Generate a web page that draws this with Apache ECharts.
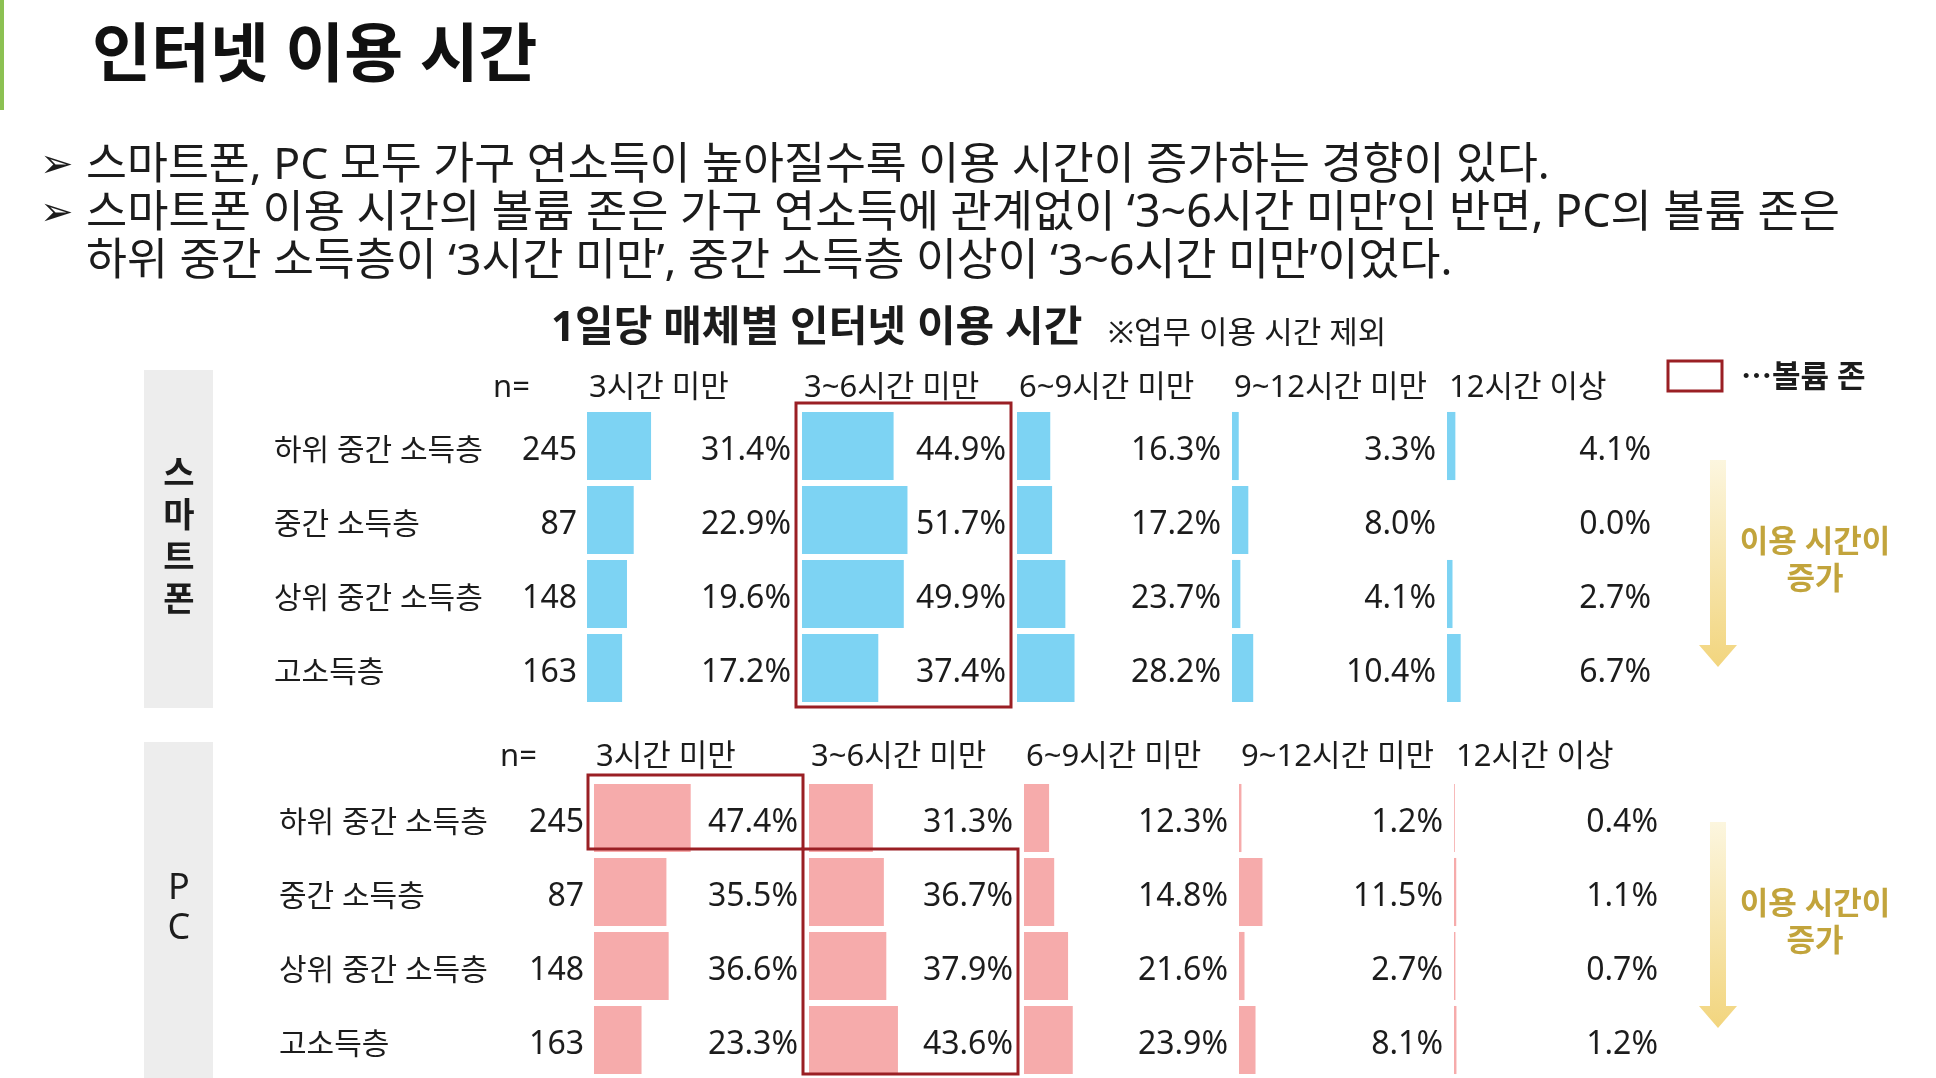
<!DOCTYPE html>
<html>
<head>
<meta charset="utf-8">
<title>인터넷 이용 시간</title>
<script src="https://cdn.jsdelivr.net/npm/echarts@6/dist/echarts.min.js"></script>
<style>
  html, body { margin: 0; padding: 0; background: #ffffff; }
  #chart { width: 1936px; height: 1078px; }
</style>
</head>
<body>
<div id="chart"></div>
<script type="text/javascript">
  // categories
  var incomeGroups = ['하위 중간 소득층', '중간 소득층', '상위 중간 소득층', '고소득층'];
  var sampleN = [245, 87, 148, 163];
  var timeBands = ['3시간 미만', '3~6시간 미만', '6~9시간 미만', '9~12시간 미만', '12시간 이상'];

  // 스마트폰 (%)
  var phoneUnder3 = [31.4, 22.9, 19.6, 17.2];
  var phone3to6 = [44.9, 51.7, 49.9, 37.4];
  var phone6to9 = [16.3, 17.2, 23.7, 28.2];
  var phone9to12 = [3.3, 8.0, 4.1, 10.4];
  var phoneOver12 = [4.1, 0.0, 2.7, 6.7];

  // PC (%)
  var pcUnder3 = [47.4, 35.5, 36.6, 23.3];
  var pc3to6 = [31.3, 36.7, 37.9, 43.6];
  var pc6to9 = [12.3, 14.8, 21.6, 23.9];
  var pc9to12 = [1.2, 11.5, 2.7, 8.1];
  var pcOver12 = [0.4, 1.1, 0.7, 1.2];

  // 볼륨 존: time band index per income group
  var phoneZone = [1, 1, 1, 1];
  var pcZone = [0, 1, 1, 1];

  var FONT = '"Noto Sans", "Noto Sans CJK KR", sans-serif';
  var INK = '#1c1c1c';
  var BOX = '#9a1f24';

  var sections = [
    { name: '스마트폰', weight: 'bold', nameSize: 34, bands: [phoneUnder3, phone3to6, phone6to9, phone9to12, phoneOver12],
      zone: phoneZone, color: '#7dd3f3', top: 409, colLeft: 587, labelLeft: 274, nLeft: 493,
      headerY: 388, panelTop: 370, panelBottom: 708, charStep: 42, charShift: -19, boxPad: 2,
      arrowTop: 460, arrowTip: 667, noteY: 543 },
    { name: 'PC', weight: 'normal', nameSize: 36, bands: [pcUnder3, pc3to6, pc6to9, pc9to12, pcOver12],
      zone: pcZone, color: '#f6abab', top: 781, colLeft: 594, labelLeft: 279, nLeft: 500,
      headerY: 757, panelTop: 742, panelBottom: 1078, charStep: 40, charShift: -20, boxPad: -3,
      arrowTop: 822, arrowTip: 1028, noteY: 905 }
  ];

  var COL_PITCH = 215, COL_W = 204, ROW_H = 74;

  var grids = [], xAxes = [], yAxes = [], series = [], graphics = [];

  function txt(x, y, text, size, opt) {
    opt = opt || {};
    graphics.push({
      type: 'text', x: x, y: y, silent: true,
      style: {
        text: text, fill: opt.color || INK, font: (opt.weight || 'normal') + ' ' + size + 'px ' + FONT,
        textAlign: opt.align || 'left', textVerticalAlign: 'middle', lineHeight: opt.lineHeight
      }
    });
  }

  // page texts
  graphics.push({ type: 'rect', shape: { x: 0, y: 0, width: 4, height: 110 }, style: { fill: '#8cc152' }, silent: true });
  txt(92, 58, '인터넷 이용 시간', 64, { weight: 'bold', color: '#111' });
  txt(40, 166, '➢', 40);
  txt(86, 166, '스마트폰, PC 모두 가구 연소득이 높아질수록 이용 시간이 증가하는 경향이 있다.', 44.5);
  txt(40, 214, '➢', 40);
  txt(86, 214, '스마트폰 이용 시간의 볼륨 존은 가구 연소득에 관계없이 ‘3~6시간 미만’인 반면, PC의 볼륨 존은', 44.8);
  txt(86, 262, '하위 중간 소득층이 ‘3시간 미만’, 중간 소득층 이상이 ‘3~6시간 미만’이었다.', 44.5);
  txt(551, 329, '1일당 매체별 인터넷 이용 시간', 42, { weight: 'bold' });
  txt(1108, 334, '※업무 이용 시간 제외', 31);

  // legend
  graphics.push({ type: 'rect', shape: { x: 1668, y: 361, width: 54, height: 30 }, style: { fill: '#fff', stroke: BOX, lineWidth: 3 }, silent: true });
  txt(1741, 378, '⋯볼륨 존', 31, { weight: 'bold' });

  // row texts sit a little below the bar centre
  var rowLabel = { verticalAlign: 'top', lineHeight: 10, fontFamily: FONT, color: INK };

  sections.forEach(function (sec, s) {
    var gridBottom = sec.top + ROW_H * incomeGroups.length;

    // side panel
    graphics.push({ type: 'rect', shape: { x: 144, y: sec.panelTop, width: 69, height: sec.panelBottom - sec.panelTop },
      style: { fill: '#ededed' }, silent: true });
    txt(179, (sec.top + gridBottom) / 2 + sec.charShift, sec.name.split('').join('\n'), sec.nameSize,
      { weight: sec.weight, align: 'center', lineHeight: sec.charStep });

    // header row
    txt(sec.nLeft, sec.headerY, 'n=', 31);

    sec.bands.forEach(function (vals, c) {
      var g = grids.length;
      var left = sec.colLeft + c * COL_PITCH;
      grids.push({ left: left, top: sec.top, width: COL_W, height: ROW_H * incomeGroups.length });
      xAxes.push({ gridIndex: g, type: 'value', min: 0, max: 100, show: false });

      var barAxis = yAxes.length;
      yAxes.push({ gridIndex: g, type: 'category', data: incomeGroups, inverse: true, show: false });
      // value labels, right aligned at the column's right edge
      yAxes.push({
        gridIndex: g, type: 'category', inverse: true, position: 'right',
        data: vals.map(function (v) { return v.toFixed(1) + '%'; }),
        axisLine: { show: false, onZero: false }, axisTick: { show: false }, splitLine: { show: false },
        axisLabel: Object.assign({ inside: true, margin: 0, fontSize: 32 }, rowLabel)
      });
      if (c === 0) {
        yAxes.push({
          gridIndex: g, type: 'category', data: incomeGroups, inverse: true, position: 'left',
          axisLine: { show: false, onZero: false }, axisTick: { show: false },
          axisLabel: Object.assign({ margin: left - sec.labelLeft, align: 'left', fontSize: 30 }, rowLabel)
        });
        yAxes.push({
          gridIndex: g, type: 'category', data: sampleN.map(String), inverse: true, position: 'left',
          axisLine: { show: false, onZero: false }, axisTick: { show: false },
          axisLabel: Object.assign({ margin: 10, fontSize: 32 }, rowLabel)
        });
      }

      series.push({
        type: 'bar', xAxisIndex: g, yAxisIndex: barAxis, data: vals,
        barCategoryGap: '8%', silent: true,
        itemStyle: { color: sec.color }
      });

      txt(left + 2, sec.headerY, timeBands[c], 31);
    });

    // 볼륨 존 boxes: consecutive rows sharing the same band
    var r = 0;
    while (r < sec.zone.length) {
      var r1 = r;
      while (r1 + 1 < sec.zone.length && sec.zone[r1 + 1] === sec.zone[r]) r1++;
      var bx = sec.colLeft + sec.zone[r] * COL_PITCH - 6;
      var by = sec.top + r * ROW_H - 6;
      var bb = sec.top + (r1 + 1) * ROW_H + (r1 + 1 < sec.zone.length ? -6 : sec.boxPad);
      graphics.push({ type: 'rect', z: 10, shape: { x: bx, y: by, width: COL_PITCH, height: bb - by },
        style: { fill: 'none', stroke: BOX, lineWidth: 3 }, silent: true });
      r = r1 + 1;
    }

    // yellow arrow
    var cx = 1718, hw = 8, hh = 19, headH = 22;
    graphics.push({
      type: 'polygon', silent: true,
      shape: { points: [[cx - hw, sec.arrowTop], [cx + hw, sec.arrowTop], [cx + hw, sec.arrowTip - headH],
        [cx + hh, sec.arrowTip - headH], [cx, sec.arrowTip], [cx - hh, sec.arrowTip - headH], [cx - hw, sec.arrowTip - headH]] },
      style: { fill: new echarts.graphic.LinearGradient(0, 0, 0, 1, [
        { offset: 0, color: '#fcf6df' }, { offset: 1, color: '#f2d57e' }]) }
    });
    txt(1815, sec.noteY, '이용 시간이', 31, { align: 'center', color: '#c2a43c', weight: 'bold' });
    txt(1815, sec.noteY + 37, '증가', 31, { align: 'center', color: '#c2a43c', weight: 'bold' });
  });

  var chart = echarts.init(document.getElementById('chart'));
  chart.setOption({
    backgroundColor: '#ffffff',
    animation: false,
    grid: grids,
    xAxis: xAxes,
    yAxis: yAxes,
    series: series,
    graphic: graphics
  });
</script>
</body>
</html>
